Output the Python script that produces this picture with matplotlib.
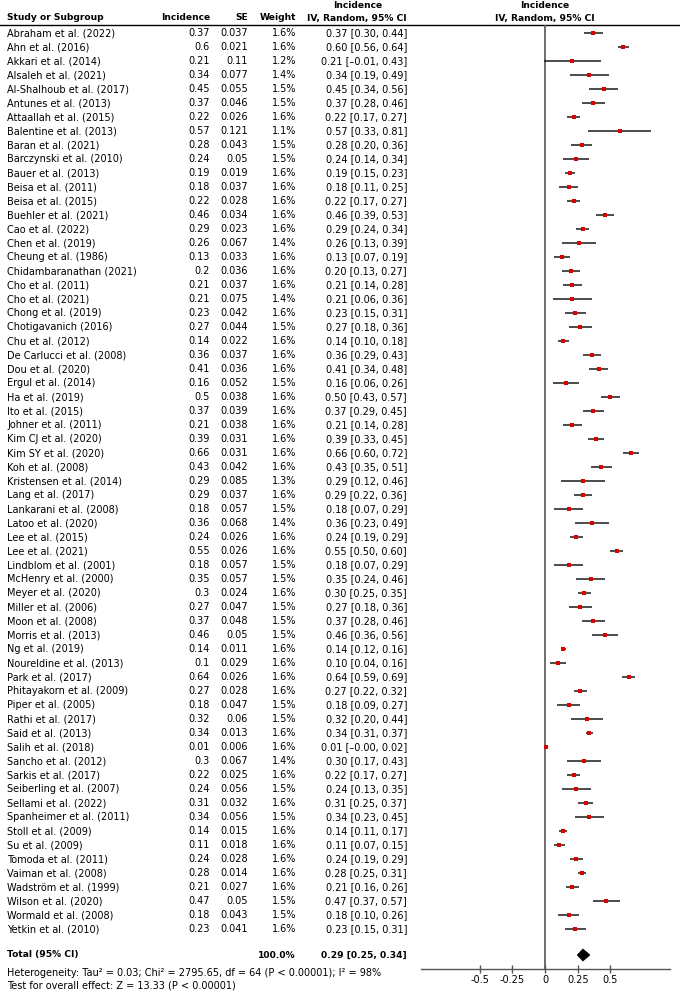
import numpy as np
import matplotlib.pyplot as plt
from matplotlib.patches import Polygon

################################################################################
# Data
studies = [
    'Abraham et al. (2022)', 'Ahn et al. (2016)', 'Akkari et al. (2014)',
    'Alsaleh et al. (2021)', 'Al-Shalhoub et al. (2017)', 'Antunes et al. (2013)',
    'Attaallah et al. (2015)', 'Balentine et al. (2013)', 'Baran et al. (2021)',
    'Barczynski et al. (2010)', 'Bauer et al. (2013)', 'Beisa et al. (2011)',
    'Beisa et al. (2015)', 'Buehler et al. (2021)', 'Cao et al. (2022)',
    'Chen et al. (2019)', 'Cheung et al. (1986)', 'Chidambaranathan (2021)',
    'Cho et al. (2011)', 'Cho et al. (2021)', 'Chong et al. (2019)',
    'Chotigavanich (2016)', 'Chu et al. (2012)', 'De Carlucci et al. (2008)',
    'Dou et al. (2020)', 'Ergul et al. (2014)', 'Ha et al. (2019)',
    'Ito et al. (2015)', 'Johner et al. (2011)', 'Kim CJ et al. (2020)',
    'Kim SY et al. (2020)', 'Koh et al. (2008)', 'Kristensen et al. (2014)',
    'Lang et al. (2017)', 'Lankarani et al. (2008)', 'Latoo et al. (2020)',
    'Lee et al. (2015)', 'Lee et al. (2021)', 'Lindblom et al. (2001)',
    'McHenry et al. (2000)', 'Meyer et al. (2020)', 'Miller et al. (2006)',
    'Moon et al. (2008)', 'Morris et al. (2013)', 'Ng et al. (2019)',
    'Noureldine et al. (2013)', 'Park et al. (2017)', 'Phitayakorn et al. (2009)',
    'Piper et al. (2005)', 'Rathi et al. (2017)', 'Said et al. (2013)',
    'Salih et al. (2018)', 'Sancho et al. (2012)', 'Sarkis et al. (2017)',
    'Seiberling et al. (2007)', 'Sellami et al. (2022)', 'Spanheimer et al. (2011)',
    'Stoll et al. (2009)', 'Su et al. (2009)', 'Tomoda et al. (2011)',
    'Vaiman et al. (2008)', 'Wadström et al. (1999)', 'Wilson et al. (2020)',
    'Wormald et al. (2008)', 'Yetkin et al. (2010)']

incidence = [0.37, 0.6, 0.21, 0.34, 0.45, 0.37, 0.22, 0.57, 0.28, 0.24,
             0.19, 0.18, 0.22, 0.46, 0.29, 0.26, 0.13, 0.2, 0.21, 0.21,
             0.23, 0.27, 0.14, 0.36, 0.41, 0.16, 0.5, 0.37, 0.21, 0.39,
             0.66, 0.43, 0.29, 0.29, 0.18, 0.36, 0.24, 0.55, 0.18, 0.35,
             0.3, 0.27, 0.37, 0.46, 0.14, 0.1, 0.64, 0.27, 0.18, 0.32,
             0.34, 0.01, 0.3, 0.22, 0.24, 0.31, 0.34, 0.14, 0.11, 0.24,
             0.28, 0.21, 0.47, 0.18, 0.23]

se = [0.037, 0.021, 0.11, 0.077, 0.055, 0.046, 0.026, 0.121, 0.043, 0.05,
      0.019, 0.037, 0.028, 0.034, 0.023, 0.067, 0.033, 0.036, 0.037, 0.075,
      0.042, 0.044, 0.022, 0.037, 0.036, 0.052, 0.038, 0.039, 0.038, 0.031,
      0.031, 0.042, 0.085, 0.037, 0.057, 0.068, 0.026, 0.026, 0.057, 0.057,
      0.024, 0.047, 0.048, 0.05, 0.011, 0.029, 0.026, 0.028, 0.047, 0.06,
      0.013, 0.006, 0.067, 0.025, 0.056, 0.032, 0.056, 0.015, 0.018, 0.028,
      0.014, 0.027, 0.05, 0.043, 0.041]

weight = [1.6, 1.6, 1.2, 1.4, 1.5, 1.5, 1.6, 1.1, 1.5, 1.5,
          1.6, 1.6, 1.6, 1.6, 1.6, 1.4, 1.6, 1.6, 1.6, 1.4,
          1.6, 1.5, 1.6, 1.6, 1.6, 1.5, 1.6, 1.6, 1.6, 1.6,
          1.6, 1.6, 1.3, 1.6, 1.5, 1.4, 1.6, 1.6, 1.5, 1.5,
          1.6, 1.5, 1.5, 1.5, 1.6, 1.6, 1.6, 1.6, 1.5, 1.5,
          1.6, 1.6, 1.4, 1.6, 1.5, 1.6, 1.5, 1.6, 1.6, 1.6,
          1.6, 1.6, 1.5, 1.5, 1.6]

ci_lo = [0.30, 0.56, -0.01, 0.19, 0.34, 0.28, 0.17, 0.33, 0.20, 0.14,
         0.15, 0.11, 0.17, 0.39, 0.24, 0.13, 0.07, 0.13, 0.14, 0.06,
         0.15, 0.18, 0.10, 0.29, 0.34, 0.06, 0.43, 0.29, 0.14, 0.33,
         0.60, 0.35, 0.12, 0.22, 0.07, 0.23, 0.19, 0.50, 0.07, 0.24,
         0.25, 0.18, 0.28, 0.36, 0.12, 0.04, 0.59, 0.22, 0.09, 0.20,
         0.31, -0.00, 0.17, 0.17, 0.13, 0.25, 0.23, 0.11, 0.07, 0.19,
         0.25, 0.16, 0.37, 0.10, 0.15]

ci_hi = [0.44, 0.64, 0.43, 0.49, 0.56, 0.46, 0.27, 0.81, 0.36, 0.34,
         0.23, 0.25, 0.27, 0.53, 0.34, 0.39, 0.19, 0.27, 0.28, 0.36,
         0.31, 0.36, 0.18, 0.43, 0.48, 0.26, 0.57, 0.45, 0.28, 0.45,
         0.72, 0.51, 0.46, 0.36, 0.29, 0.49, 0.29, 0.60, 0.29, 0.46,
         0.35, 0.36, 0.46, 0.56, 0.16, 0.16, 0.69, 0.32, 0.27, 0.44,
         0.37, 0.02, 0.43, 0.27, 0.35, 0.37, 0.45, 0.17, 0.15, 0.29,
         0.31, 0.26, 0.57, 0.26, 0.31]

total_est = 0.29
total_lo = 0.25
total_hi = 0.34
total_weight = 100.0

heterogeneity = ('Heterogeneity: Tau\u00b2 = 0.03; Chi\u00b2 = 2795.65, df = 64 '
                 '(P < 0.00001); I\u00b2 = 98%')
overall_effect = 'Test for overall effect: Z = 13.33 (P < 0.00001)'

x_ticks = [-0.5, -0.25, 0, 0.25, 0.5]
x_tick_labels = ['-0.5', '-0.25', '0', '0.25', '0.5']


################################################################################
# Layout (pixels of the 680 x 991 picture)
W, H = 680, 991
row0 = 33       # y of first study row
row_h = 14      # row pitch
y_total = 955
y_het = 973
y_test = 986
y_rule = 25
y_axis = 969
x_ax_left, x_ax_right = 421, 670
fs = 7.05       # normal text
fs_b = 6.6      # bold text (DejaVu bold runs wide)


def fmt_ci(est, lo, hi):
    s = '%.2f [%.2f, %.2f]' % (est, lo, hi)
    return s.replace('-', '\u2013')


plt.rcParams['font.family'] = 'DejaVu Sans'
fig = plt.figure(figsize=(W / 100, H / 100), dpi=100)

################################################################################
# Table text
axt = fig.add_axes([0, 0, 1, 1])
axt.set_xlim(0, W)
axt.set_ylim(H, 0)
axt.axis('off')

bold = dict(fontsize=fs_b, fontweight='bold', va='center')
norm = dict(fontsize=fs, va='center')

axt.text(358, 6, 'Incidence', ha='center', **bold)
axt.text(545, 6, 'Incidence', ha='center', **bold)
axt.text(7, 18, 'Study or Subgroup', ha='left', **bold)
axt.text(210, 18, 'Incidence', ha='right', **bold)
axt.text(248, 18, 'SE', ha='right', **bold)
axt.text(296, 18, 'Weight', ha='right', **bold)
axt.text(407, 18, 'IV, Random, 95% CI', ha='right', **bold)
axt.text(545, 18, 'IV, Random, 95% CI', ha='center', **bold)
axt.plot([0, W], [y_rule, y_rule], color='black', lw=1.0)

for i, name in enumerate(studies):
    y = row0 + i * row_h
    axt.text(7, y, name, ha='left', **norm)
    axt.text(210, y, '%g' % incidence[i], ha='right', **norm)
    axt.text(248, y, '%g' % se[i], ha='right', **norm)
    axt.text(296, y, '%.1f%%' % weight[i], ha='right', **norm)
    axt.text(407, y, fmt_ci(incidence[i], ci_lo[i], ci_hi[i]), ha='right', **norm)

axt.text(7, y_total, 'Total (95% CI)', ha='left', **bold)
axt.text(296, y_total, '%.1f%%' % total_weight, ha='right', **bold)
axt.text(407, y_total, fmt_ci(total_est, total_lo, total_hi), ha='right', **bold)
axt.text(7, y_het, heterogeneity, ha='left', **norm)
axt.text(7, y_test, overall_effect, ha='left', **norm)

################################################################################
# Forest plot
ax = fig.add_axes([x_ax_left / W, (H - y_axis) / H,
                   (x_ax_right - x_ax_left) / W, (y_axis - y_rule) / H])
px_per_unit = 130.8
x_zero = 545
ax.set_xlim((x_ax_left - x_zero) / px_per_unit, (x_ax_right - x_zero) / px_per_unit)
ax.set_ylim((y_axis - row0) / row_h, (y_rule - row0) / row_h)
ax.patch.set_alpha(0)

ax.axvline(0, color='#555555', lw=1.2, zorder=1)
for i in range(len(studies)):
    ax.plot([ci_lo[i], ci_hi[i]], [i, i], color='#1a1a1a', lw=1.1, zorder=2,
            solid_capstyle='butt')
    ax.plot(incidence[i], i, 's', color='#dd0000', ms=2.3, mew=0, zorder=3)

yt = (y_total - row0) / row_h
dh = 5.5 / row_h
ax.add_patch(Polygon([[total_lo, yt], [total_est, yt - dh], [total_hi, yt],
                      [total_est, yt + dh]], closed=True, color='black', zorder=3))

for side in ['top', 'right', 'left']:
    ax.spines[side].set_visible(False)
ax.spines['bottom'].set_color('#555555')
ax.spines['bottom'].set_linewidth(1.0)
ax.set_yticks([])
ax.set_xticks(x_ticks, x_tick_labels)
ax.tick_params(axis='x', direction='inout', length=6, width=1.0, color='#555555',
               labelsize=fs, pad=1)

fig.savefig('out.png', dpi=100)
